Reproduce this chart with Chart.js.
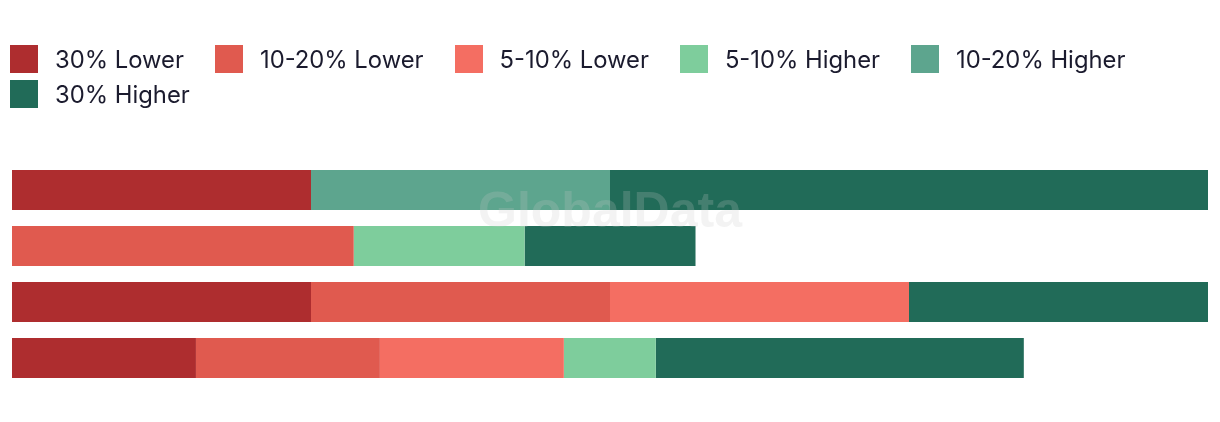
<!DOCTYPE html>
<html>
<head>
<meta charset="utf-8">
<script src="https://cdn.jsdelivr.net/npm/chart.js@4.4.0/dist/chart.umd.min.js"></script>
<style>
  html, body { margin: 0; padding: 0; background: #fff; }
  #wrap { position: relative; width: 1220px; height: 422px; }
  #legend {
    position: absolute; left: 10px; top: 45px; width: 1200px;
    display: flex; flex-wrap: wrap; column-gap: 31px; row-gap: 7px;
    font-family: Inter, "Noto Sans", sans-serif; font-size: 23.8px; color: #1b1b2e;
  }
  .item { display: flex; align-items: center; height: 28px; }
  .box { width: 28px; height: 28px; margin-right: 17px; }
  #chart { position: absolute; left: 0; top: 0; }
</style>
</head>
<body>
<div id="wrap">
  <canvas id="chart" width="1220" height="422"></canvas>
  <div id="legend"></div>
</div>
<script>
// categories (no labels are shown on the chart)
const categories = ['Group 1', 'Group 2', 'Group 3', 'Group 4'];

// share of each answer, per group (%)
const lower30 = [25, 0, 25, 15.38];
const lower10to20 = [0, 28.57, 25, 15.38];
const lower5to10 = [0, 0, 25, 15.38];
const higher5to10 = [0, 14.29, 0, 7.69];
const higher10to20 = [25, 0, 0, 0];
const higher30 = [50, 14.29, 25, 30.77];

const seriesLabels = ['30% Lower', '10-20% Lower', '5-10% Lower', '5-10% Higher', '10-20% Higher', '30% Higher'];
const seriesData = [lower30, lower10to20, lower5to10, higher5to10, higher10to20, higher30];
const seriesColors = ['#ae2d2f', '#e05a4f', '#f46e62', '#7ecd9c', '#5da58e', '#216b58'];

const datasets = seriesLabels.map((label, i) => ({
  label: label,
  data: seriesData[i],
  backgroundColor: seriesColors[i],
  borderWidth: 0,
  barPercentage: 40 / 56,
  categoryPercentage: 1
}));

// watermark in the middle of the picture
const watermark = {
  id: 'watermark',
  afterDatasetsDraw(chart) {
    const ctx = chart.ctx;
    ctx.save();
    ctx.font = 'bold 50px "Liberation Sans", Arial, sans-serif';
    ctx.fillStyle = 'rgba(200, 200, 200, 0.22)';
    ctx.textAlign = 'center';
    ctx.textBaseline = 'middle';
    ctx.fillText('GlobalData', chart.width / 2, chart.height / 2 + 2);
    ctx.restore();
  }
};

new Chart(document.getElementById('chart'), {
  type: 'bar',
  data: { labels: categories, datasets: datasets },
  options: {
    indexAxis: 'y',
    responsive: false,
    animation: false,
    layout: { padding: { left: 12, right: 12, top: 162, bottom: 36 } },
    scales: {
      x: { stacked: true, min: 0, max: 100, display: false },
      y: { stacked: true, display: false }
    },
    plugins: {
      legend: { display: false },
      tooltip: { enabled: false }
    }
  },
  plugins: [watermark]
});

// html legend
const legend = document.getElementById('legend');
seriesLabels.forEach((label, i) => {
  const item = document.createElement('div');
  item.className = 'item';
  item.innerHTML = `<span class="box" style="background:${seriesColors[i]}"></span><span>${label}</span>`;
  legend.appendChild(item);
});
</script>
</body>
</html>
